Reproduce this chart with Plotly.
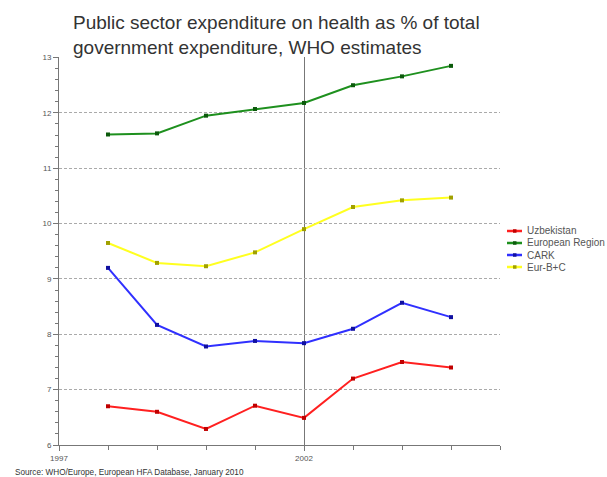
import plotly.graph_objects as go

years = [1998, 1999, 2000, 2001, 2002, 2003, 2004, 2005]
uzbekistan = [6.70, 6.60, 6.29, 6.71, 6.49, 7.20, 7.50, 7.40]
european_region = [11.61, 11.63, 11.95, 12.07, 12.18, 12.50, 12.66, 12.85]
cark = [9.20, 8.17, 7.78, 7.88, 7.84, 8.10, 8.57, 8.31]
eur_bc = [9.65, 9.29, 9.23, 9.48, 9.90, 10.30, 10.42, 10.47]

series_names = ["Uzbekistan", "European Region", "CARK", "Eur-B+C"]
series_values = [uzbekistan, european_region, cark, eur_bc]
line_colors = ["#ff2020", "#1e901e", "#3030ff", "#ffff20"]
marker_colors = ["#c00000", "#0b5a0b", "#1010a0", "#a0a000"]

W, H = 607, 477
L, R, T, B = 59, 107, 57, 32
PW, PH = W - L - R, H - T - B


def px(x):
    return (x - L) / PW


def py(y):
    return (H - B - y) / PH


fig = go.Figure()
for name, vals, lc, mc in zip(series_names, series_values, line_colors, marker_colors):
    fig.add_trace(go.Scatter(
        x=years, y=vals, name=name, mode="lines+markers",
        line=dict(color=lc, width=2),
        marker=dict(symbol="square", size=4, color=mc),
        showlegend=False,
    ))

# custom compact legend
for i, (name, lc, mc) in enumerate(zip(series_names, line_colors, marker_colors)):
    yy = 231 + 12 * i
    fig.add_shape(type="line", xref="paper", yref="paper",
                  x0=px(507), x1=px(522), y0=py(yy), y1=py(yy),
                  line=dict(color=lc, width=2.5))
    fig.add_shape(type="rect", xref="paper", yref="paper",
                  x0=px(513), x1=px(516.5), y0=py(yy - 1.75), y1=py(yy + 1.75),
                  line=dict(width=0), fillcolor=mc)
    fig.add_annotation(text=name, xref="paper", yref="paper",
                       x=px(525), y=py(yy), xanchor="left", yanchor="middle",
                       showarrow=False, font=dict(size=10, color="#555"))

fig.update_layout(
    width=W, height=H,
    margin=dict(l=L, r=R, t=T, b=B, autoexpand=False),
    paper_bgcolor="white", plot_bgcolor="white",
    font=dict(family="Liberation Sans, Arial, sans-serif", color="#444"),
    title=dict(
        text="Public sector expenditure on health as % of total<br>government expenditure, WHO estimates",
        xref="container", yref="container", x=73 / W, y=1 - 29 / H,
        xanchor="left", yanchor="top",
        font=dict(size=19, color="#333"),
    ),
    showlegend=False,
    xaxis=dict(
        range=[1997, 2006], tick0=1997, dtick=5,
        showgrid=True, gridcolor="#777", gridwidth=1,
        showline=True, linecolor="#777", linewidth=1,
        ticks="outside", ticklen=5, tickcolor="#777",
        tickfont=dict(size=8, color="#555"),
        minor=dict(dtick=1, tick0=1997, ticks="outside", ticklen=4, tickcolor="#777", showgrid=False),
        zeroline=False,
    ),
    yaxis=dict(
        range=[6, 13.01], dtick=1,
        showgrid=True, gridcolor="#aaa", gridwidth=1, griddash="3px,2px",
        showline=True, linecolor="#777", linewidth=1,
        ticks="outside", ticklen=5, tickcolor="#777",
        tickfont=dict(size=8, color="#555"),
        minor=dict(dtick=0.2, ticks="outside", ticklen=3, tickcolor="#777", showgrid=False),
        zeroline=False,
    ),
)

fig.add_annotation(
    text="Source: WHO/Europe, European HFA Database, January 2010",
    xref="paper", yref="paper", x=px(13), y=py(472),
    xanchor="left", yanchor="middle", showarrow=False,
    font=dict(size=8.2, color="#333"),
)

fig.write_html(
    "out.html",
    config={"displayModeBar": False},
    post_script="document.body.style.margin='0';document.body.style.padding='0';",
)
